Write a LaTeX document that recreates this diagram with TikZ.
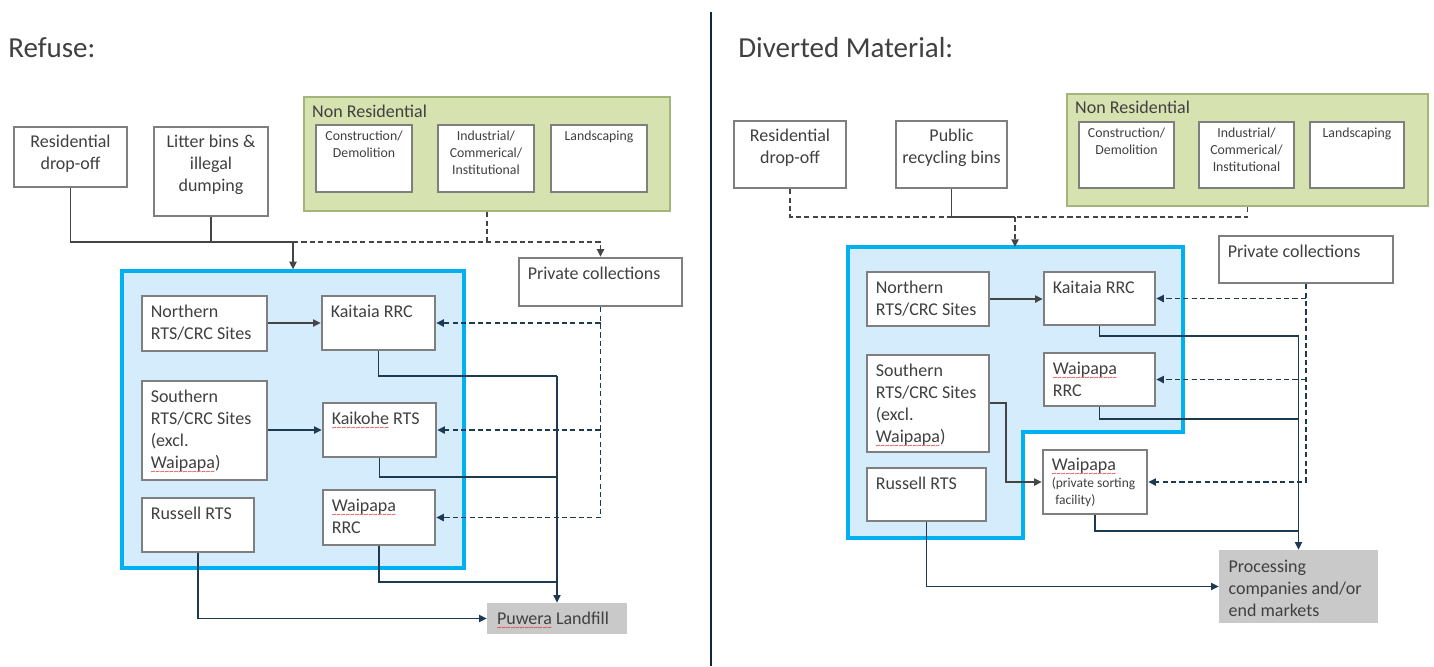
\documentclass[tikz,border=0pt]{standalone}
\usepackage{fontspec}
\setmainfont{Carlito}
\usetikzlibrary{arrows.meta,fit}

\definecolor{txt}{HTML}{404040}
\definecolor{boxline}{HTML}{7F7F7F}
\definecolor{navy}{HTML}{1E3A52}
\definecolor{lnk}{HTML}{454545}
\definecolor{siteblue}{HTML}{D4ECFB}
\definecolor{siteedge}{HTML}{00B0F0}
\definecolor{nrfill}{HTML}{D7E2B1}
\definecolor{nredge}{HTML}{A4B57B}
\definecolor{destfill}{HTML}{C9C9C9}
\definecolor{divider}{HTML}{10283D}
\definecolor{spellred}{HTML}{E03030}

\newcommand\boxfont{\fontsize{9}{11}\selectfont}
\newcommand\smallbox{\fontsize{6.9}{8.3}\selectfont}
\newcommand\tinybox{\fontsize{6.75}{8.5}\selectfont}
\newcommand\titlefont{\fontsize{14.5}{17}\selectfont}
% red wavy proof-reading mark under a word
\newcommand\spellerr[1]{\leavevmode\setbox0\hbox{#1}%
  \rlap{\color{spellred}\fontsize{4.5}{4.5}\selectfont
    \raisebox{-2.9pt}[0pt][0pt]{\xleaders\hbox{\char126}\hskip\wd0}}\box0\relax}

\begin{document}
\begin{tikzpicture}[x=0.5pt,y=-0.5pt,
  box/.style={draw=boxline, line width=1.25pt, fill=white, inner sep=0pt},
  sitebox/.style={draw=siteedge, line width=1.7pt, fill=siteblue, inner sep=0pt},
  nrbox/.style={draw=nredge, line width=1.2pt, fill=nrfill, inner sep=0pt},
  dest/.style={fill=destfill, inner sep=0pt},
  ctext/.style={label={[anchor=north, align=center, font=\boxfont, text=txt, inner xsep=0pt, inner ysep=4.5pt]north:#1}},
  stext/.style={label={[anchor=north, align=center, font=\smallbox, text=txt, inner xsep=0pt, inner ysep=3.6pt]north:#1}},
  ltext/.style={label={[anchor=north west, align=left, font=\boxfont, text=txt, inner xsep=4.8pt, inner ysep=5pt]north west:#1}},
  conn/.style={draw=navy, line width=0.65pt},
  connG/.style={draw=lnk, line width=0.65pt},
  dashG/.style={draw=lnk, line width=0.7pt, dash pattern=on 2.6pt off 1.6pt},
  dashN/.style={draw=navy, line width=0.75pt, dash pattern=on 2.6pt off 1.6pt},
  tip/.style={-{Triangle[length=3.8pt,width=3.6pt]}}
]
\useasboundingbox (0,0) rectangle (1434,666);
\fill[white] (0,0) rectangle (1434,666);

% ---------- headings and divider ----------
\node[anchor=base west, font=\titlefont, text=txt, inner sep=0pt] (tRef) at (8,57) {Refuse:};
\node[anchor=base west, font=\titlefont, text=txt, inner sep=0pt] (tDiv) at (738,57) {Diverted Material:};
\draw[divider, line width=1.1pt] (711,12) -- (711,666);

% ================= Refuse =================
\node[box, fit={(14,127)(127,187)}, ctext={Residential\\drop-off}] (resL) {};
\node[box, fit={(154,127)(268,216)}, ctext={Litter bins \&\\illegal\\dumping}] (litL) {};
\node[nrbox, fit={(304,97)(670,211)},
      label={[anchor=north west, font=\boxfont, text=txt, inner xsep=4.5pt, inner ysep=4.5pt]north west:Non Residential}] (nrL) {};
\node[box, fit={(316,125)(412,192)}, stext={Construction/\\Demolition}] (cdL) {};
\node[box, fit={(438,125)(534,192)}, stext={Industrial/\\Commerical/\\Institutional}] (icL) {};
\node[box, fit={(551,125)(647,192)}, stext={Landscaping}] (lsL) {};
\node[box, fit={(519,258)(682,306)}, ltext={Private collections}] (privL) {};

\node[sitebox, fit={(122,271)(464,568)}] (blueL) {};
\node[box, fit={(142,296)(267,351)}, ltext={Northern\\RTS/CRC Sites}] (norL) {};
\node[box, fit={(322,296)(435,350)}, ltext={Kaitaia RRC}] (kaiL) {};
\node[box, fit={(142,381)(267,480)}, ltext={Southern\\RTS/CRC Sites\\(excl.\\\spellerr{Waipapa})}] (souL) {};
\node[box, fit={(323,403)(436,457)}, ltext={\spellerr{Kaikohe} RTS}] (kohL) {};
\node[box, fit={(142,498)(254,552)}, ltext={Russell RTS}] (rusL) {};
\node[box, fit={(323,490)(435,545)}, ltext={\spellerr{Waipapa}\\RRC}] (waiL) {};
\node[dest, fit={(487,603)(627,634)},
      label={[anchor=west, font=\boxfont, text=txt, inner xsep=5pt]west:\spellerr{Puwera} Landfill}] (puwL) {};

% sources into the sites
\coordinate (jL) at (293,242);
\draw[connG] (resL.south) |- (jL);
\draw[connG] (litL.south) -- (litL.south |- jL);
\draw[connG, tip] (jL) -- (jL |- blueL.north);
\draw[dashG] (nrL.south) -- (nrL.south |- jL);
\draw[dashG, tip] (jL) -| (privL.north);

% private collections
\draw[dashN, tip] (privL.south) |- (waiL.east);
\draw[dashN, tip] (privL.south |- kaiL.east) -- (kaiL.east);
\draw[dashN, tip] (privL.south |- kohL.east) -- (kohL.east);

% transfers between sites
\draw[connG, tip] (norL.east |- kaiL.west) -- (kaiL.west);
\draw[conn, tip] (souL.east |- kohL.west) -- (kohL.west);

% to landfill
\coordinate (lvA) at (0,376);
\coordinate (lvB) at (0,477);
\coordinate (lvC) at (0,582);
\draw[conn] (kaiL.south) |- (puwL.north |- lvA);
\draw[conn] (kohL.south) |- (puwL.north |- lvB);
\draw[conn] (waiL.south) |- (puwL.north |- lvC);
\draw[conn, tip] (puwL.north |- lvA) -- (puwL.north);
\draw[conn, tip] (rusL.south) |- (puwL.west);

% ================= Diverted material =================
\node[box, fit={(734,121)(846,188)}, ctext={Residential\\drop-off}] (resR) {};
\node[box, fit={(896,121)(1007,188)}, ctext={Public\\recycling bins}] (pubR) {};
\node[nrbox, fit={(1067,94)(1428,206)},
      label={[anchor=north west, font=\boxfont, text=txt, inner xsep=4.5pt, inner ysep=4pt]north west:Non Residential}] (nrR) {};
\node[box, fit={(1079,122)(1174,188)}, stext={Construction/\\Demolition}] (cdR) {};
\node[box, fit={(1199,122)(1294,188)}, stext={Industrial/\\Commerical/\\Institutional}] (icR) {};
\node[box, fit={(1310,122)(1404,188)}, stext={Landscaping}] (lsR) {};
\node[box, fit={(1219,236)(1393,283)}, ltext={Private collections}] (privR) {};

\draw[draw=siteedge, line width=1.7pt, fill=siteblue]
  (848,247) -- (1183,247) -- (1183,432) -- (1023,432) -- (1023,538) -- (848,538) -- cycle;
\coordinate (blueRtop) at (1015,247);

\node[box, fit={(867,272)(989,326)}, ltext={Northern\\RTS/CRC Sites}] (norR) {};
\node[box, fit={(1044,272)(1155,325)}, ltext={Kaitaia RRC}] (kaiR) {};
\node[box, fit={(867,355)(989,452)}, ltext={Southern\\RTS/CRC Sites\\(excl.\\\spellerr{Waipapa})}] (souR) {};
\node[box, fit={(1044,353)(1155,406)}, ltext={\spellerr{Waipapa}\\RRC}] (wrrR) {};
\node[box, fit={(867,468)(986,521)}, ltext={Russell RTS}] (rusR) {};
\node[box, fit={(1043,450)(1147,514)},
      label={[anchor=north west, align=left, font=\tinybox, text=txt, inner xsep=4.8pt, inner ysep=4.5pt]north west:{\boxfont\spellerr{Waipapa}}\\(private sorting\\\hspace*{1.8pt}facility)}] (wpfR) {};
\node[dest, fit={(1219,550)(1378,623)}, ltext={Processing\\companies and/or\\end markets}] (procR) {};

% sources into the sites
\coordinate (jR) at (1015,217);
\draw[dashG] (resR.south) |- (jR);
\draw[dashG] (nrR.south) |- (jR);
\draw[connG] (pubR.south) |- (jR);
\draw[dashG, tip] (jR) -- (blueRtop);

% private collections
\draw[dashN, tip] (privR.south) |- (wpfR.east);
\draw[dashN, tip] (privR.south |- kaiR.east) -- (kaiR.east);
\draw[dashN, tip] (privR.south |- wrrR.east) -- (wrrR.east);

% transfers between sites
\coordinate (sbend) at (1006,403);
\draw[connG, tip] (norR.east) -- (norR.east -| kaiR.west);
\draw[connG, tip] (souR.east |- sbend) -- (sbend) |- (wpfR.west);

% to processing
\coordinate (rvA) at (0,336);
\coordinate (rvB) at (0,419);
\coordinate (rvC) at (0,531);
\draw[conn] (kaiR.south) |- (procR.north |- rvA);
\draw[conn] (wrrR.south) |- (procR.north |- rvB);
\draw[conn] (wpfR.south) |- (procR.north |- rvC);
\draw[conn, tip] (procR.north |- rvA) -- (procR.north);
\draw[conn, tip] (rusR.south) |- (procR.west);
\end{tikzpicture}
\end{document}
